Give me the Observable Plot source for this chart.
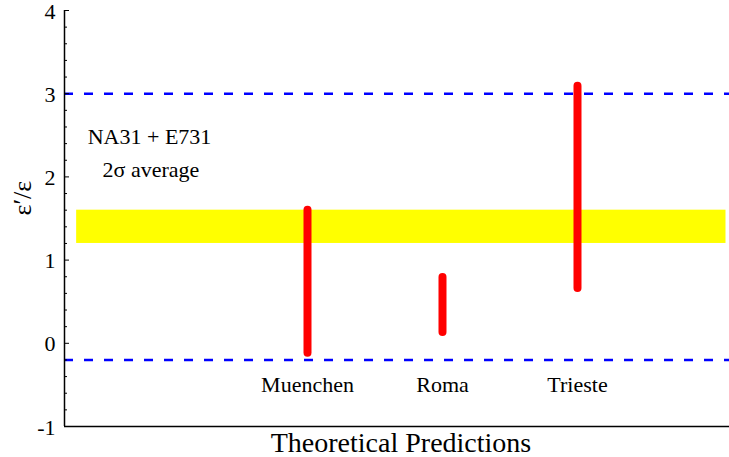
<!DOCTYPE html>
<html>
<head>
<meta charset="utf-8">
<script src="https://cdn.jsdelivr.net/npm/d3@7"></script>
<script src="https://cdn.jsdelivr.net/npm/@observablehq/plot@0.6"></script>
<style>
  html, body { margin: 0; padding: 0; background: #fff; }
</style>
</head>
<body>
<div id="chart"></div>
<script>
// Theoretical predictions for ε'/ε (units of 10^-3)
const groups = ["Muenchen", "Roma", "Trieste"];
const groupPos = [1.8, 2.8, 3.8];
const lowValues = [-0.12, 0.13, 0.66];
const highValues = [1.6, 0.79, 3.09];

// Experimental 2σ average band (NA31 + E731)
const bandLow = 1.2;
const bandHigh = 1.6;
const bandStart = 0.09;
const bandEnd = 4.9;

// dashed reference lines
const refLines = [3, -0.2];

const yMajor = [-1, 0, 1, 2, 3, 4];
const yTickLabels = ["-1", "0", "1", "2", "3", "4"];
const yMinor = d3.range(-1, 4.001, 0.2).map(v => +v.toFixed(1)).filter(v => !yMajor.includes(v));

const notes = [
  {text: "NA31 + E731", x: 0.63, y: 2.48},
  {text: "2σ average", x: 0.64, y: 2.08}
];

const FONT = "'Liberation Serif', 'Times New Roman', Times, serif";
const preds = groups.map((g, i) => ({name: g, x: groupPos[i], lo: lowValues[i], hi: highValues[i]}));
const yTicks = yMajor.map((v, i) => ({v, label: yTickLabels[i]}));

const plot = Plot.plot({
  width: 729,
  height: 457,
  marginLeft: 64,
  marginRight: 0,
  marginTop: 10,
  marginBottom: 31,
  style: {fontFamily: FONT, background: "#fff"},
  x: {type: "linear", domain: [0, 4.926], axis: null},
  y: {domain: [-1, 4], axis: null},
  marks: [
    Plot.rect([{x1: bandStart, x2: bandEnd, y1: bandLow, y2: bandHigh}], {x1: "x1", x2: "x2", y1: "y1", y2: "y2", fill: "#ffff00"}),
    Plot.ruleY(refLines, {stroke: "#0000ff", strokeWidth: 2.5, strokeDasharray: "9,11"}),
    Plot.ruleX(preds, {x: "x", y1: "lo", y2: "hi", stroke: "#ff0000", strokeWidth: 8, strokeLinecap: "round"}),
    Plot.text(preds, {x: "x", y: -0.5, text: "name", fontSize: 22, fontFamily: FONT, fill: "black"}),
    Plot.text(notes, {x: "x", y: "y", text: "text", fontSize: 22, fontFamily: FONT, fill: "black"}),
    // axes
    Plot.axisY({ticks: yMajor, tickSize: -5, tickFormat: () => "", stroke: "black", strokeWidth: 1}),
    Plot.axisY({ticks: yMinor, tickSize: -3, tickFormat: () => "", stroke: "black", strokeWidth: 1}),
    Plot.text(yTicks, {y: "v", text: "label", frameAnchor: "left", dx: -9, dy: 1, textAnchor: "end", fontSize: 22, fontFamily: FONT, fill: "black"}),
    Plot.ruleX([0], {stroke: "black", strokeWidth: 1.5}),
    Plot.ruleY([-1], {stroke: "black", strokeWidth: 1.5}),
    Plot.text(["Theoretical Predictions"], {frameAnchor: "bottom", dx: 4, dy: 17, lineAnchor: "middle", fontSize: 28, fontFamily: FONT, fill: "black"}),
    Plot.text(["ε′/ε"], {frameAnchor: "left", dx: -42, dy: -3, rotate: -90, fontSize: 26, fontFamily: FONT, fill: "black"})
  ]
});
document.getElementById("chart").appendChild(plot);
</script>
</body>
</html>
